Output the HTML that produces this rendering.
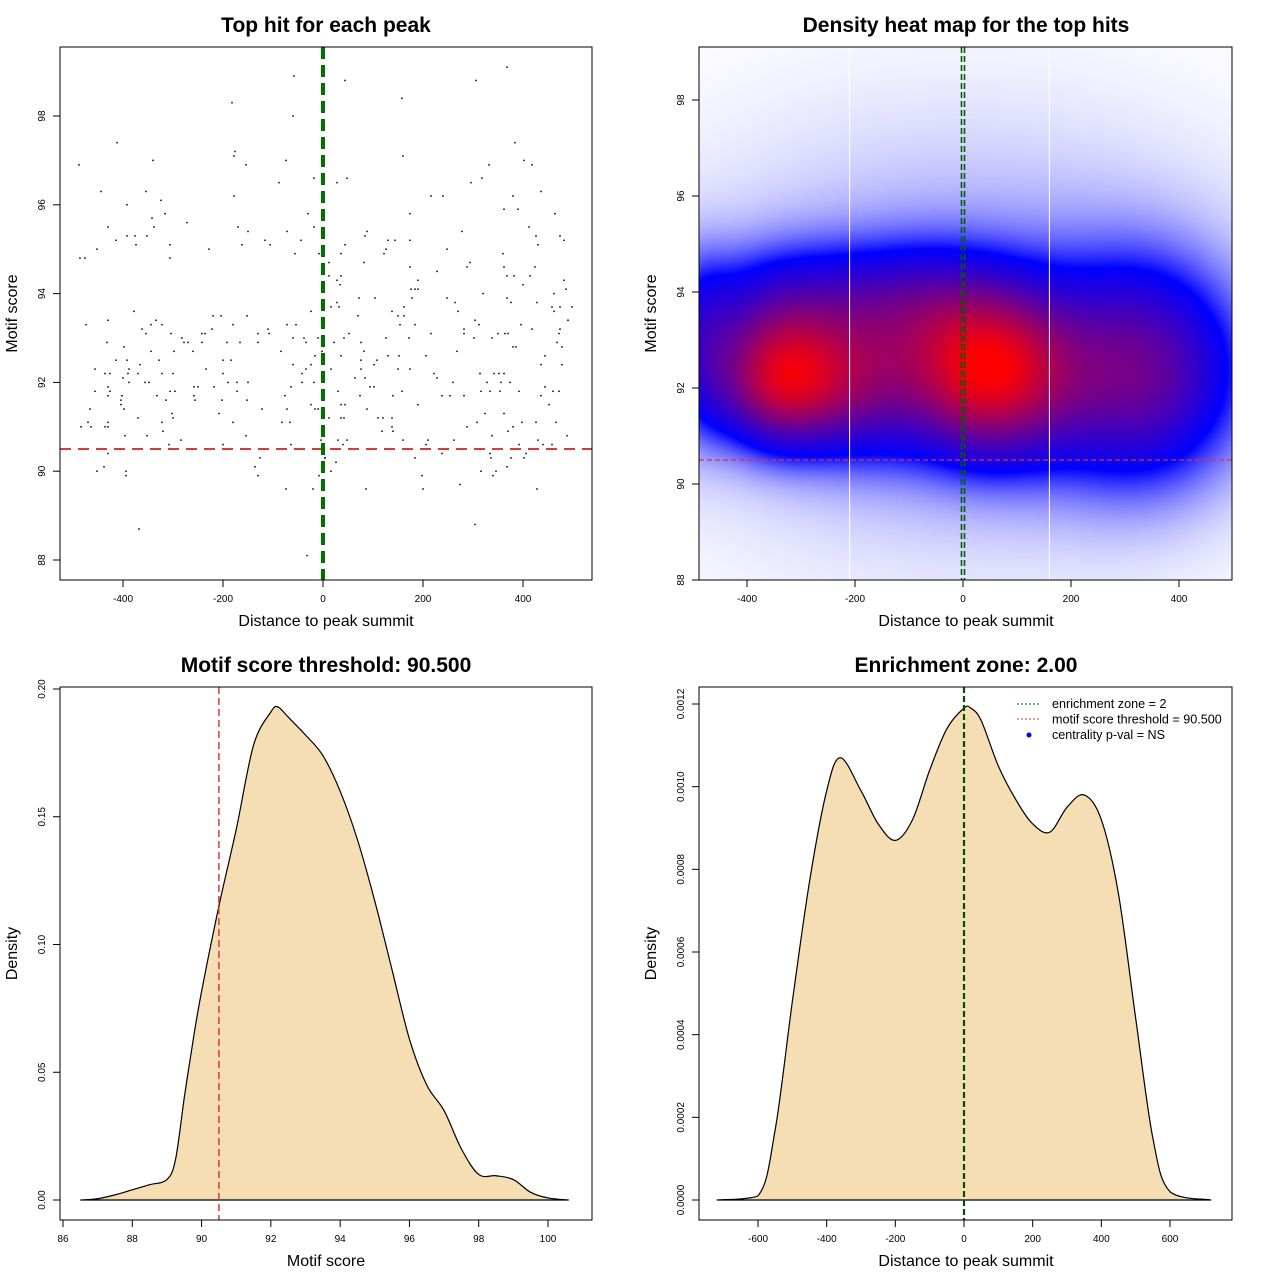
<!DOCTYPE html>
<html><head><meta charset="utf-8"><style>
body{margin:0;background:#fff;width:1280px;height:1280px;overflow:hidden;font-family:"Liberation Sans",sans-serif}
#heat{position:absolute;left:699px;top:47px;width:533px;height:533px}
svg{position:absolute;left:0;top:0}
</style></head><body>
<canvas id="heat" width="533" height="533"></canvas>
<svg id="root" width="1280" height="1280" xmlns="http://www.w3.org/2000/svg"></svg>
<script>
// ---------- data ----------
const ptX=[-58,-182,-60,-412,-176,-178,-488,-340,-154,-74,-88,-18,-444,-354,-178,-392,-324,-30,-316,-342,-272,-430,-338,-170,-150,-72,-18,-414,-392,-376,-352,-116,-44,-374,-306,-162,-106,-452,-228,-56,-486,-476,-306,-8,
-378,-220,-204,-152,-24,-474,-430,-344,-334,-322,-180,-72,-54,-362,-354,-304,-282,-242,-236,-222,-130,-110,-108,-60,-38,-10,-432,-398,-278,-270,-242,-192,-166,-130,-34,-344,-298,-260,-84,-2,-414,-392,-328,-200,-184,-16,-366,-60,-24,-456,-388,-234,-34,-436,-426,-390,-370,-322,-300,-200,-42,-400,-388,-356,-348,-190,-172,-150,-42,-18,-430,-258,-250,-218,-64,-456,-426,-306,-296,-172,-430,-402,-332,-258,-76,-404,-314,-256,-202,-152,-404,-24,-466,-398,-122,-72,-16,-10,-302,-208,-370,-300,-470,-430,-322,-180,-82,-66,-484,-464,-436,-430,-320,-396,-352,-154,-284,-4,-308,-200,-64,-430,-126,4,-438,-136,-452,-394,-394,-130,-8,-74,-20,-368,-32,
368,44,306,158,384,160,332,402,418,48,28,296,318,216,240,380,436,174,362,390,464,88,84,278,412,130,144,174,426,474,482,44,126,248,430,36,122,360,12,82,174,228,288,294,362,424,12,36,368,382,414,28,34,190,482,400,176,184,190,486,320,462,72,104,178,248,368,28,264,376,428,16,32,162,458,474,498,70,138,150,162,270,462,
304,490,154,184,312,396,418,474,282,52,216,282,350,364,370,472,42,126,172,302,338,22,76,468,380,386,478,82,268,36,130,152,206,444,76,108,102,436,478,16,76,150,174,314,222,342,352,362,64,84,228,94,102,260,328,356,374,30,158,316,334,354,392,444,460,472,74,140,238,254,282,436,36,44,190,452,88,12,36,42,110,120,138,324,362,138,288,308,380,398,426,466,118,140,370,338,488,30,48,160,210,262,430,40,206,392,440,458,238,334,406,4,184,336,376,402,26,368,16,316,346,198,340,274,86,200,428,304];
const ptY=[98.9,98.3,98.0,97.4,97.2,97.1,96.9,97.0,96.9,97.0,96.5,96.6,96.3,96.3,96.2,96.0,96.1,95.8,95.8,95.7,95.6,95.5,95.5,95.5,95.4,95.4,95.5,95.2,95.3,95.3,95.3,95.2,95.2,95.1,95.1,95.1,95.1,95.0,95.0,94.9,94.8,94.8,94.8,94.9,
93.6,93.5,93.5,93.5,93.6,93.3,93.4,93.3,93.4,93.3,93.3,93.3,93.3,93.2,93.1,93.1,93.0,93.1,93.1,93.2,93.1,93.2,93.1,93.0,93.0,93.0,92.9,92.8,92.9,92.9,92.9,92.9,92.9,92.9,92.9,92.7,92.7,92.7,92.7,92.7,92.5,92.5,92.5,92.5,92.5,92.6,92.4,92.4,92.4,92.3,92.3,92.3,92.3,92.2,92.2,92.2,92.2,92.2,92.2,92.2,92.2,92.1,92.0,92.0,92.0,92.0,92.0,92.0,92.0,92.0,91.9,91.9,91.9,91.9,91.9,91.8,91.8,91.8,91.8,91.8,91.7,91.7,91.7,91.7,91.7,91.6,91.6,91.6,91.6,91.6,91.5,91.5,91.4,91.4,91.4,91.4,91.4,91.4,91.3,91.3,91.2,91.2,91.1,91.1,91.1,91.1,91.1,91.1,91.0,91.0,91.0,91.0,90.9,90.8,90.8,90.8,90.7,90.7,90.6,90.6,90.6,90.4,90.3,90.3,90.1,90.1,90.0,90.0,89.9,89.9,89.9,89.6,89.6,88.7,88.1,
99.1,98.8,98.8,98.4,97.4,97.1,96.9,97.0,96.9,96.6,96.5,96.5,96.6,96.2,96.2,96.2,96.3,95.8,95.9,95.9,95.8,95.4,95.3,95.4,95.5,95.2,95.2,95.2,95.3,95.3,95.2,95.1,95.0,95.0,95.1,94.9,94.9,94.9,94.7,94.7,94.6,94.5,94.6,94.7,94.6,94.6,94.4,94.4,94.4,94.4,94.4,94.3,94.2,94.3,94.3,94.2,94.1,94.1,94.1,94.1,94.0,94.0,93.9,93.9,93.9,93.9,93.9,93.8,93.8,93.8,93.8,93.7,93.7,93.7,93.7,93.7,93.7,93.5,93.6,93.5,93.5,93.6,93.6,
93.4,93.4,93.3,93.3,93.3,93.3,93.2,93.2,93.2,93.1,93.1,93.1,93.1,93.1,93.1,93.1,93.0,93.0,93.0,93.0,93.0,92.9,92.9,92.9,92.8,92.8,92.8,92.7,92.7,92.6,92.6,92.6,92.6,92.6,92.5,92.5,92.4,92.4,92.4,92.3,92.3,92.3,92.3,92.2,92.2,92.2,92.2,92.2,92.1,92.1,92.1,91.9,91.9,92.0,92.0,92.0,92.0,91.8,91.8,91.8,91.8,91.8,91.8,91.9,91.8,91.8,91.7,91.7,91.7,91.7,91.7,91.7,91.5,91.5,91.5,91.5,91.4,91.2,91.2,91.2,91.2,91.2,91.2,91.3,91.3,91.0,91.0,91.1,91.0,91.1,91.1,91.1,90.9,90.9,90.9,90.8,90.8,90.7,90.7,90.7,90.7,90.7,90.7,90.6,90.6,90.6,90.6,90.6,90.4,90.4,90.4,90.3,90.3,90.3,90.3,90.3,90.2,90.1,90.0,90.0,90.0,89.9,89.9,89.7,89.6,89.6,89.6,88.8];
// heatmap density components
const heatCX=[-330,45,-90,330,-485,-330,0,-170];
const heatCY=[92.15,92.35,93.8,92.3,92.8,93.8,93.0,92.1];
const heatSX=[90,105,110,130,40,130,400,80];
const heatSY=[0.95,1.2,0.9,1.6,1.3,0.9,3.2,1.1];
const heatW=[0.6,0.62,0.16,0.38,0.15,0.2,0.14,0.22];
// motif score density
const scoreX=[86.5,87,87.5,88,88.5,89,89.25,89.5,89.67,89.95,90.5,91,91.5,92,92.2,92.5,93,93.5,94,94.5,95,95.5,96,96.5,97,97.5,98,98.5,99,99.5,100,100.6];
const scoreD=[0,0.0005,0.002,0.004,0.006,0.008,0.016,0.04,0.055,0.078,0.115,0.145,0.178,0.191,0.193,0.189,0.182,0.174,0.160,0.141,0.117,0.090,0.063,0.045,0.035,0.020,0.010,0.0095,0.008,0.003,0.0008,0];
// distance density
const distX=[-720,-600,-550,-500,-450,-400,-360,-300,-250,-200,-150,-100,-50,0,20,50,100,150,200,250,300,350,400,450,500,550,600,720];
const distD=[0,0.00001,0.00017,0.00048,0.00077,0.00099,0.00107,0.00099,0.00091,0.00087,0.00092,0.00104,0.00114,0.00119,0.00119,0.00116,0.00105,0.00097,0.00091,0.00089,0.00095,0.00098,0.00092,0.00074,0.00044,0.00015,0.00002,0];
const ticks1X=[-400,-200,0,200,400], ticks1Y=[88,90,92,94,96,98];
const ticks3X=[86,88,90,92,94,96,98,100], ticks3Y=[0,0.05,0.10,0.15,0.20], ticks3YL=["0.00","0.05","0.10","0.15","0.20"];
const ticks4X=[-600,-400,-200,0,200,400,600], ticks4Y=[0,0.0002,0.0004,0.0006,0.0008,0.001,0.0012], ticks4YL=["0.0000","0.0002","0.0004","0.0006","0.0008","0.0010","0.0012"];
const scoreThreshold=90.5;

// ---------- helpers ----------
const NS="http://www.w3.org/2000/svg";
const root=document.getElementById('root');
function el(tag,attrs,parent,text){const e=document.createElementNS(NS,tag);for(const k in attrs)e.setAttribute(k,attrs[k]);if(text!==undefined)e.textContent=text;(parent||root).appendChild(e);return e;}
function lin(d0,d1,r0,r1){return v=>r0+(v-d0)*(r1-r0)/(d1-d0);}
function frame(g,b){const r=el('rect',{x:b.x0,y:b.y0,width:b.x1-b.x0,height:b.y1-b.y0,fill:'none',stroke:'#000','stroke-width':1},g);}
function axes(g,b,sx,sy,tx,ty,txl,tyl,title,xl,yl,cx){
  const ax=el('g',{},g);
  el('line',{x1:sx(tx[0]),x2:sx(tx[tx.length-1]),y1:b.y1,y2:b.y1,stroke:'#000'},ax);
  tx.forEach((t,i)=>{el('line',{x1:sx(t),x2:sx(t),y1:b.y1,y2:b.y1+7,stroke:'#000'},ax);
    const l=el('text',{x:sx(t),y:b.y1+22,'font-size':10,'text-anchor':'middle'},ax,txl?txl[i]:String(t));});
  const ay=el('g',{},g);
  el('line',{x1:b.x0,x2:b.x0,y1:sy(ty[0]),y2:sy(ty[ty.length-1]),stroke:'#000'},ay);
  ty.forEach((t,i)=>{el('line',{x1:b.x0,x2:b.x0-7,y1:sy(t),y2:sy(t),stroke:'#000'},ay);
    const x=b.x0-15;const l=el('text',{x:x,y:sy(t),'font-size':10,'text-anchor':'middle',transform:`rotate(-90 ${x} ${sy(t)})`},ay,tyl?tyl[i]:String(t));});
  const ti=el('text',{x:cx,y:b.y0-15,'font-size':21,'font-weight':'bold','text-anchor':'middle'},g,title);
  const xt=el('text',{x:cx,y:b.y1+46,'font-size':16,'text-anchor':'middle'},g,xl);
  const yx=b.x0-43,ym=(b.y0+b.y1)/2;
  const yt=el('text',{x:yx,y:ym,'font-size':16,'text-anchor':'middle',transform:`rotate(-90 ${yx} ${ym})`},g,yl);
}
function smoothPath(xs,ys,sx,sy,maxY){const P=xs.map((x,i)=>[sx(x),sy(ys[i])]);let d=`M${P[0][0]},${P[0][1]}`;
  for(let i=0;i<P.length-1;i++){const p0=P[Math.max(0,i-1)],p1=P[i],p2=P[i+1],p3=P[Math.min(P.length-1,i+2)];
    const c1=[p1[0]+(p2[0]-p0[0])/6,Math.min(maxY,p1[1]+(p2[1]-p0[1])/6)],c2=[p2[0]-(p3[0]-p1[0])/6,Math.min(maxY,p2[1]-(p3[1]-p1[1])/6)];
    d+=` C${c1[0]},${c1[1]} ${c2[0]},${c2[1]} ${p2[0]},${p2[1]}`;}return d;}

// ---------- panel 1: scatter ----------
{const b={x0:60,x1:592,y0:47,y1:580};const sx=lin(0,400,323,523),sy=lin(88,98,560,116);
 const g=el('g',{});
 const pts=el('g',{},g);
 ptX.forEach((x,i)=>{const c=el('rect',{x:sx(x)-0.75,y:sy(ptY[i])-0.75,width:1.5,height:1.5,fill:'#000'},pts);});
 const r=el('line',{x1:b.x0,x2:b.x1,y1:sy(scoreThreshold),y2:sy(scoreThreshold),stroke:'#d63a3a','stroke-width':2,'stroke-dasharray':'11 7'},g);
 const gl=el('line',{x1:sx(0),x2:sx(0),y1:b.y0,y2:b.y1,stroke:'#007000','stroke-width':4,'stroke-dasharray':'12 6'},g);
 frame(g,b);axes(g,b,sx,sy,ticks1X,ticks1Y,null,null,'Top hit for each peak','Distance to peak summit','Motif score',326);}

// ---------- panel 2: heatmap ----------
{const b={x0:699,x1:1232,y0:47,y1:580};const sx=lin(0,400,963,1179),sy=lin(88,98,580,100);
 const cv=document.getElementById('heat'),ctx=cv.getContext('2d');const W=533,H=533;const img=ctx.createImageData(W,H);
 const ix=lin(963,1179,0,400),iy=lin(580,100,88,98);
 const dens=new Float32Array(W*H);let mx=0;
 for(let j=0;j<H;j++){const vy=iy(b.y0+j+0.5);for(let i=0;i<W;i++){const vx=ix(b.x0+i+0.5);let d=0;
   for(let k=0;k<heatCX.length;k++){const a=(vx-heatCX[k])/heatSX[k],c=(vy-heatCY[k])/heatSY[k];d+=heatW[k]*Math.exp(-0.5*(a*a+c*c));}
   dens[j*W+i]=d;if(d>mx)mx=d;}}
 for(let p=0;p<W*H;p++){const t=dens[p]/mx;let r,g,bl;
   if(t<0.3){const s=Math.pow(t/0.3,1.3);r=g=255*(1-s);bl=255;}else{const u=Math.min(1,(t-0.3)/0.68);r=255*u;g=0;bl=255*(1-u);}
   img.data[p*4]=r;img.data[p*4+1]=g;img.data[p*4+2]=bl;img.data[p*4+3]=255;}
 ctx.putImageData(img,0,0);
 const g=el('g',{});
 [-210,160].forEach(v=>{const l=el('line',{x1:sx(v),x2:sx(v),y1:b.y0,y2:b.y1,stroke:'#fff','stroke-width':1},g);});
 const r=el('line',{x1:b.x0,x2:b.x1,y1:sy(scoreThreshold),y2:sy(scoreThreshold),stroke:'#e03030','stroke-width':1.2,'stroke-dasharray':'5 3'},g);
 [-1.5,1.5].forEach(o=>{const gl=el('line',{x1:sx(0)+o,x2:sx(0)+o,y1:b.y0,y2:b.y1,stroke:'#006000','stroke-width':1.6,'stroke-dasharray':'6 3'},g);});
 frame(g,b);axes(g,b,sx,sy,ticks1X,ticks1Y,null,null,'Density heat map for the top hits','Distance to peak summit','Motif score',966);}

// ---------- panel 3: score density ----------
{const b={x0:60,x1:592,y0:687,y1:1220};const sx=lin(86,100,63,548),sy=lin(0,0.2,1200,689);
 const g=el('g',{});
 const d=smoothPath(scoreX,scoreD,sx,sy,sy(0));
 const a=el('path',{d:d+` L${sx(scoreX[0])},${sy(0)} Z`,fill:'#f5deb3',stroke:'#000','stroke-width':1.2},g);
 const r=el('line',{x1:sx(scoreThreshold),x2:sx(scoreThreshold),y1:b.y0,y2:b.y1,stroke:'#d63a3a','stroke-width':1.5,'stroke-dasharray':'7 4'},g);
 frame(g,b);axes(g,b,sx,sy,ticks3X,ticks3Y,null,ticks3YL,'Motif score threshold: 90.500','Motif score','Density',326);}

// ---------- panel 4: distance density ----------
{const b={x0:699,x1:1232,y0:687,y1:1220};const sx=lin(0,600,964,1170),sy=lin(0,0.0012,1200,704);
 const g=el('g',{});
 const d=smoothPath(distX,distD,sx,sy,sy(0));
 const a=el('path',{d:d+` L${sx(distX[0])},${sy(0)} Z`,fill:'#f5deb3',stroke:'#000','stroke-width':1.2},g);
 const gl=el('line',{x1:sx(0),x2:sx(0),y1:b.y0,y2:b.y1,stroke:'#005000','stroke-width':2.2,'stroke-dasharray':'6 3'},g);
 frame(g,b);axes(g,b,sx,sy,ticks4X,ticks4Y,null,ticks4YL,'Enrichment zone: 2.00','Distance to peak summit','Density',966);
 const lg=el('g',{},g);
 el('line',{x1:1017,x2:1041,y1:704,y2:704,stroke:'#006400','stroke-width':1,'stroke-dasharray':'2 2'},lg);
 el('line',{x1:1017,x2:1041,y1:719,y2:719,stroke:'#e03030','stroke-width':1,'stroke-dasharray':'2 2'},lg);
 el('circle',{cx:1029,cy:735,r:2.5,fill:'#0000ff'},lg);
 ['enrichment zone = 2','motif score threshold = 90.500','centrality p-val = NS'].forEach((t,i)=>{const e=el('text',{x:1052,y:708+i*15.5,'font-size':12.6},lg,t);});}
</script>
</body></html>
